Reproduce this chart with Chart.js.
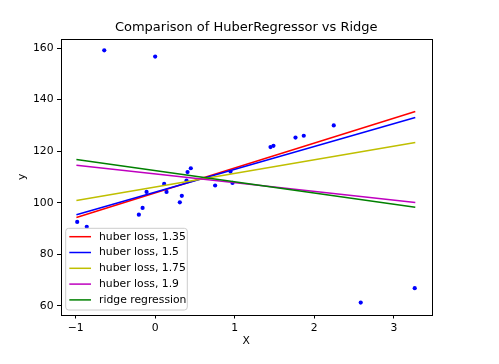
<!DOCTYPE html>
<html lang="en">
<head>
    <meta charset="UTF-8">
    <title>Comparison of HuberRegressor vs Ridge</title>
    <script src="https://cdn.jsdelivr.net/npm/chart.js"></script>
    <style>
        html, body { margin: 0; padding: 0; background: #fff; }
        #wrap { width: 499px; height: 364px; }
    </style>
</head>
<body>
    <div id="wrap"><canvas id="grafico" width="499" height="364"></canvas></div>

    <script>
        // Dados
        const xTicks = [-1, 0, 1, 2, 3];
        const yTicks = [60, 80, 100, 120, 140, 160];

        const pointX = [-0.98, -0.86, -0.64, 0.00, -0.205, -0.158, -0.108, 0.143, 0.113, 0.31, 0.335, 0.394,
                        0.407, 0.448, 0.754, 0.947, 0.972, 1.45, 1.487, 1.764, 1.868, 2.245, 2.584, 3.263];
        const pointY = [92.6, 90.7, 159.1, 156.7, 95.4, 98.0, 104.2, 104.2, 107.3, 100.2, 102.7, 108.6,
                        111.9, 113.4, 106.7, 112.1, 107.7, 121.6, 122.1, 125.3, 126.0, 130.0, 61.3, 66.9];

        const lineX = [-0.99, 3.27];
        const huber135 = [94.3, 135.4];
        const huber15 = [95.4, 133.1];
        const huber175 = [100.9, 123.4];
        const huber19 = [114.6, 100.1];
        const ridge = [116.8, 98.3];

        const lineLabels = ['huber loss, 1.35', 'huber loss, 1.5', 'huber loss, 1.75', 'huber loss, 1.9', 'ridge regression'];
        const lineColors = ['#ff0000', '#0000ff', '#bfbf00', '#bf00bf', '#008000'];
        const lineSeries = [huber135, huber15, huber175, huber19, ridge];

        const FONT = 'DejaVu Sans';

        function pares(xs, ys) {
            return xs.map((x, i) => ({ x: x, y: ys[i] }));
        }

        const datasets = [{
            label: 'pontos',
            data: pares(pointX, pointY),
            backgroundColor: '#0000ff',
            borderWidth: 0,
            pointRadius: 2.1,
            showLine: false,
            order: 10
        }];
        lineSeries.forEach((serie, i) => {
            datasets.push({
                label: lineLabels[i],
                data: pares(lineX, serie),
                borderColor: lineColors[i],
                borderWidth: 1.5,
                pointRadius: 0,
                showLine: true,
                fill: false,
                order: 5 - i
            });
        });

        // moldura, titulos e legenda no estilo matplotlib
        const extras = {
            id: 'extras',
            afterDraw(chart) {
                const ctx = chart.ctx;
                const a = chart.chartArea;
                ctx.save();
                ctx.strokeStyle = '#000';
                ctx.lineWidth = 1;
                ctx.strokeRect(Math.round(a.left) + 0.5, Math.round(a.top) + 0.5,
                    Math.round(a.right - a.left) - 1, Math.round(a.bottom - a.top) - 1);

                ctx.fillStyle = '#000';
                ctx.textAlign = 'center';
                ctx.textBaseline = 'middle';
                ctx.font = '13px "' + FONT + '"';
                ctx.fillText('Comparison of HuberRegressor vs Ridge', (a.left + a.right) / 2, 28);

                ctx.font = '10.8px "' + FONT + '"';
                ctx.fillText('X', (a.left + a.right) / 2, 341);
                ctx.save();
                ctx.translate(22.5, (a.top + a.bottom) / 2);
                ctx.rotate(-Math.PI / 2);
                ctx.fillText('y', 0, 0);
                ctx.restore();

                // legenda
                const lx = 65.7, ly = 228.3, lw = 121.6, lh = 81.7;
                ctx.beginPath();
                ctx.roundRect(lx, ly, lw, lh, 3);
                ctx.fillStyle = 'rgba(255,255,255,0.8)';
                ctx.fill();
                ctx.strokeStyle = '#cccccc';
                ctx.stroke();
                ctx.textAlign = 'left';
                lineLabels.forEach((txt, i) => {
                    const y = 236.7 + i * 15.8;
                    ctx.beginPath();
                    ctx.moveTo(69.3, y);
                    ctx.lineTo(91, y);
                    ctx.strokeStyle = lineColors[i];
                    ctx.lineWidth = 1.5;
                    ctx.stroke();
                    ctx.fillStyle = '#000';
                    ctx.fillText(txt, 99, y);
                });
                ctx.restore();
            }
        };

        new Chart(document.getElementById('grafico'), {
            type: 'scatter',
            data: { datasets: datasets },
            plugins: [extras],
            options: {
                responsive: false,
                animation: false,
                devicePixelRatio: 1,
                layout: { padding: { left: 0, right: 67, top: 38.5, bottom: 0 } },
                plugins: {
                    legend: { display: false },
                    tooltip: { enabled: false },
                    title: { display: false }
                },
                scales: {
                    x: {
                        type: 'linear',
                        min: -1.19,
                        max: 3.48,
                        afterFit(scale) { scale.height = 49; },
                        afterBuildTicks(scale) { scale.ticks = xTicks.map(v => ({ value: v })); },
                        grid: { drawOnChartArea: false, drawTicks: true, tickLength: 3.5, color: '#000' },
                        border: { display: false },
                        ticks: {
                            color: '#000',
                            padding: 3.5,
                            maxRotation: 0,
                            font: { family: FONT, size: 10.8 },
                            callback: v => String(v).replace('-', '\u2212')
                        }
                    },
                    y: {
                        type: 'linear',
                        min: 56.5,
                        max: 163.7,
                        afterFit(scale) { scale.width = 60.5; },
                        afterBuildTicks(scale) { scale.ticks = yTicks.map(v => ({ value: v })); },
                        grid: { drawOnChartArea: false, drawTicks: true, tickLength: 3.5, color: '#000' },
                        border: { display: false },
                        ticks: {
                            color: '#000',
                            padding: 3.5,
                            font: { family: FONT, size: 10.8 }
                        }
                    }
                }
            }
        });
    </script>
</body>
</html>
